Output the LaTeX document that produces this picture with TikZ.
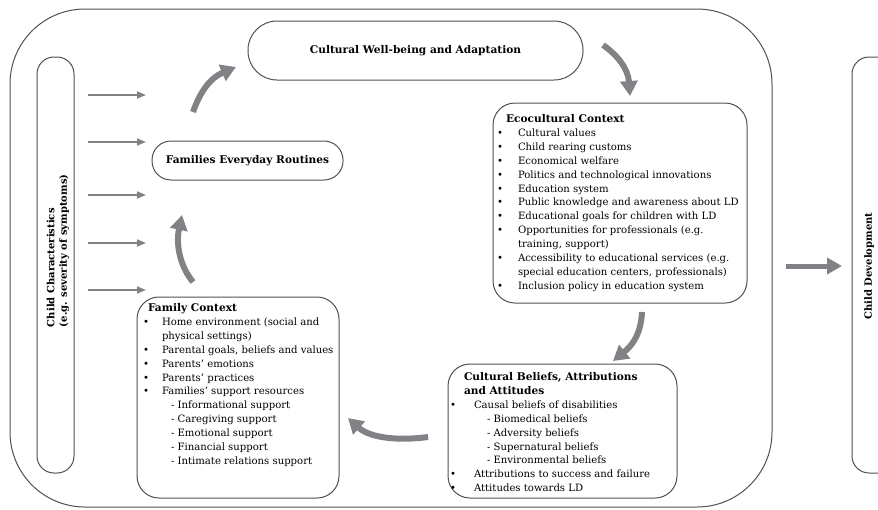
\documentclass[tikz,border=0pt]{standalone}
\usepackage{fontspec}
\setmainfont{DejaVu Serif}
\usetikzlibrary{arrows.meta}
\definecolor{arrgray}{RGB}{128,130,134}
\definecolor{edgegray}{RGB}{80,80,80}
\newcommand{\blt}[1]{\makebox[#1][l]{•}}
\newcommand{\lhead}[1]{{\fontsize{10.6}{13.9}\selectfont\bfseries #1}}
\begin{document}
\begin{tikzpicture}[x=1pt,y=-1pt,
  every node/.style={inner sep=0pt, outer sep=0pt},
  framebox/.style={draw=edgegray, line width=1pt},
  listtext/.style={align=left, font=\fontsize{10.1}{13.9}\selectfont, anchor=north west},
  titletext/.style={font=\fontsize{10.6}{12}\selectfont\bfseries},
  sidetext/.style={font=\fontsize{10}{12.5}\selectfont\bfseries},
  bigarrow/.style={draw=arrgray, line width=6pt, -{Triangle[length=15pt,width=17pt]}},
  thinarrow/.style={draw=arrgray, line width=1.8pt, -{Triangle[length=9pt,width=7pt]}},
  devarrow/.style={draw=arrgray, line width=5pt, -{Triangle[length=15pt,width=16pt]}}
]
\useasboundingbox (0,0) rectangle (878,509);

% outer frame
\node[framebox, rounded corners=75pt, minimum width=762pt, minimum height=498pt, anchor=north west] (outer) at (10,9) {};

% child characteristics
\node[framebox, rounded corners=17pt, minimum width=37pt, minimum height=416pt, anchor=north west] (cc) at (37,57) {};
\node[sidetext, rotate=90, align=left, anchor=west] (cctext) at (58,327) {Child Characteristics\\(e.g. severity of symptoms)};

% child development
\node[framebox, rounded corners=17pt, minimum width=60pt, minimum height=416pt, anchor=north west] (cd) at (852,57) {};
\node[sidetext, rotate=90] (cdtext) at (869,266) {Child Development};

% cultural well-being
\node[framebox, rounded corners=29pt, minimum width=335pt, minimum height=59pt, titletext] (wb) at (415.5,50.5) {Cultural Well-being and Adaptation};

% families everyday routines
\node[framebox, rounded corners=19pt, minimum width=191pt, minimum height=39pt, titletext] (fer) at (247.5,160.5) {Families Everyday Routines};

% ecocultural context
\node[framebox, rounded corners=22pt, minimum width=254pt, minimum height=200pt, anchor=north west] (eco) at (493,103) {};
\node[listtext] (ecotext) at (497,114.5) {%
\hspace*{9pt}\lhead{Ecocultural Context}\\
\blt{21pt}Cultural values\\
\blt{21pt}Child rearing customs\\
\blt{21pt}Economical welfare\\
\blt{21pt}Politics and technological innovations\\
\blt{21pt}Education system\\
\blt{21pt}Public knowledge and awareness about LD\\
\blt{21pt}Educational goals for children with LD\\
\blt{21pt}Opportunities for professionals (e.g.\\
\hspace*{21pt}training, support)\\
\blt{21pt}Accessibility to educational services (e.g.\\
\hspace*{21pt}special education centers, professionals)\\
\blt{21pt}Inclusion policy in education system};

% cultural beliefs
\node[framebox, rounded corners=22pt, minimum width=229pt, minimum height=134pt, anchor=north west] (cb) at (448,364) {};
\node[listtext] (cbtext) at (450,372.5) {%
\hspace*{14pt}\lhead{Cultural Beliefs, Attributions}\\
\hspace*{14pt}\lhead{and Attitudes}\\
\blt{24pt}Causal beliefs of disabilities\\
\hspace*{37pt}- Biomedical beliefs\\
\hspace*{37pt}- Adversity beliefs\\
\hspace*{37pt}- Supernatural beliefs\\
\hspace*{37pt}- Environmental beliefs\\
\blt{24pt}Attributions to success and failure\\
\blt{24pt}Attitudes towards LD};

% family context
\node[framebox, rounded corners=22pt, minimum width=202pt, minimum height=201pt, anchor=north west] (fam) at (137,297) {};
\node[listtext] (famtext) at (143,303.5) {%
\hspace*{5pt}\lhead{Family Context}\\
\blt{19pt}Home environment (social and\\
\hspace*{19pt}physical settings)\\
\blt{19pt}Parental goals, beliefs and values\\
\blt{19pt}Parents' emotions\\
\blt{19pt}Parents' practices\\
\blt{19pt}Families' support resources\\
\hspace*{28pt}- Informational support\\
\hspace*{28pt}- Caregiving support\\
\hspace*{28pt}- Emotional support\\
\hspace*{28pt}- Financial support\\
\hspace*{28pt}- Intimate relations support};

% thin arrows from child characteristics
\foreach \yy [count=\i] in {95,142,195,243,290} {
  \coordinate (ts\i) at (88,\yy);
  \coordinate (te\i) at (146,\yy);
  \draw[thinarrow] (ts\i) -- (te\i);
}

% curved arrows of the cycle
\coordinate (a1s) at (193,112); \coordinate (a1e) at (236,67);
\coordinate (a2s) at (603,45);  \coordinate (a2e) at (630,96);
\coordinate (a3s) at (642,312); \coordinate (a3e) at (613,361);
\coordinate (a4s) at (428,437); \coordinate (a4e) at (348,418);
\coordinate (a5s) at (193,282); \coordinate (a5e) at (182,215);
\draw[bigarrow] (a1s) .. controls (200,92) and (210,78) .. (a1e);
\draw[bigarrow] (a2s) .. controls (617,55) and (628,68) .. (a2e);
\draw[bigarrow] (a3s) .. controls (641,332) and (634,344) .. (a3e);
\draw[bigarrow] (a4s) .. controls (398,441) and (370,438) .. (a4e);
\draw[bigarrow] (a5s) .. controls (179,265) and (176,243) .. (a5e);

% arrow to child development
\coordinate (ds) at (786,266); \coordinate (de) at (842,266);
\draw[devarrow] (ds) -- (de);
\end{tikzpicture}
\end{document}
